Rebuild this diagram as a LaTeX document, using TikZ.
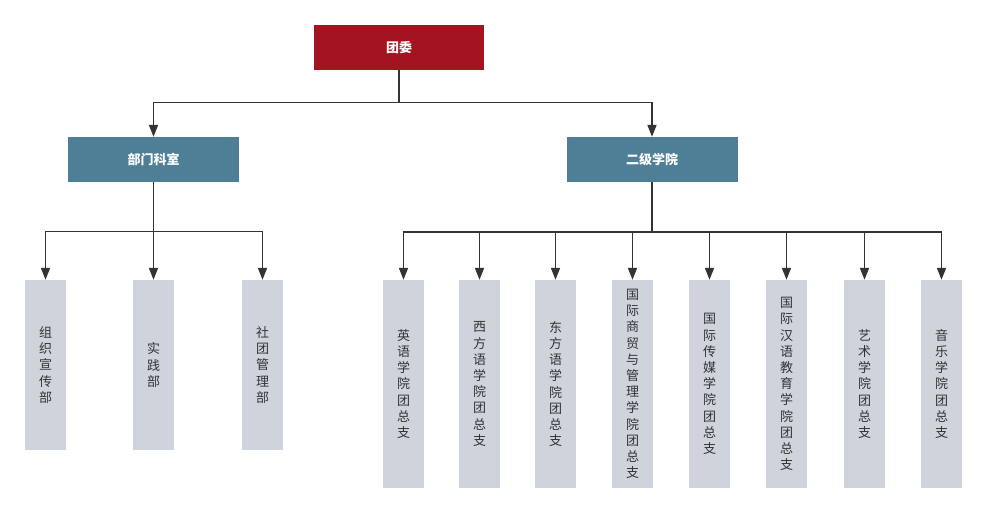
\documentclass[tikz,border=0pt]{standalone}
\usepackage{fontspec}
\newfontfamily\cjk{Noto Sans CJK SC}
\usetikzlibrary{arrows.meta}
\definecolor{topred}{HTML}{A31420}
\definecolor{midblue}{HTML}{4E7F96}
\definecolor{leafgray}{HTML}{CED3DC}
\definecolor{linegray}{HTML}{333333}
\tikzset{
  topbox/.style={fill=topred, draw=none, minimum width=170pt, minimum height=45pt, text=white, font=\cjk\bfseries\fontsize{13}{16}\selectfont, inner sep=0pt},
  midbox/.style={fill=midblue, draw=none, minimum width=171pt, minimum height=45pt, text=white, font=\cjk\bfseries\fontsize{13}{16}\selectfont, inner sep=0pt},
  leafbox/.style={fill=leafgray, draw=none, minimum width=41pt, text width=41pt, align=center, text=linegray, font=\cjk\fontsize{13}{16.2}\selectfont, inner sep=0pt},
  conn/.style={draw=linegray, line width=1.8pt, -{Triangle[width=9pt,length=12pt]}},
  plain/.style={draw=linegray, line width=1.8pt}
}
\begin{document}
\begin{tikzpicture}[x=1pt,y=-1pt]
\useasboundingbox (0,0) rectangle (987,514);
\node[topbox] (tw) at (399,47.5) {团委};
\node[midbox] (bm) at (153.5,159.5) {部门科室};
\node[midbox] (ej) at (652,159.5) {二级学院};
% left leaves (y 280-450)
\node[leafbox, minimum height=170pt] (l1) at (45.5,365) {组\\织\\宣\\传\\部};
\node[leafbox, minimum height=170pt] (l2) at (153.5,365) {实\\践\\部};
\node[leafbox, minimum height=170pt] (l3) at (262.5,365) {社\\团\\管\\理\\部};
% right leaves (y 280-488)
\node[leafbox, minimum height=208pt] (r1) at (403.5,384) {英\\语\\学\\院\\团\\总\\支};
\node[leafbox, minimum height=208pt] (r2) at (479.5,384) {西\\方\\语\\学\\院\\团\\总\\支};
\node[leafbox, minimum height=208pt] (r3) at (555.5,384) {东\\方\\语\\学\\院\\团\\总\\支};
\node[leafbox, minimum height=208pt] (r4) at (632.5,384) {国\\际\\商\\贸\\与\\管\\理\\学\\院\\团\\总\\支};
\node[leafbox, minimum height=208pt] (r5) at (709.5,384) {国\\际\\传\\媒\\学\\院\\团\\总\\支};
\node[leafbox, minimum height=208pt] (r6) at (786.5,384) {国\\际\\汉\\语\\教\\育\\学\\院\\团\\总\\支};
\node[leafbox, minimum height=208pt] (r7) at (864.5,384) {艺\\术\\学\\院\\团\\总\\支};
\node[leafbox, minimum height=208pt] (r8) at (941.5,384) {音\\乐\\学\\院\\团\\总\\支};
% junctions
\coordinate (j0) at (399,102.5);
\coordinate (j1) at (153.5,231.5);
\coordinate (j2) at (652,232);
% top level
\draw[plain] (tw.south) -- (j0);
\draw[conn] (j0) -| (bm.north);
\draw[conn] (j0) -| (ej.north);
% left
\draw[plain] (bm.south) -- (j1);
\foreach \n in {l1,l2,l3} \draw[conn] (j1) -| (\n.north);
% right
\draw[plain] (ej.south) -- (j2);
\foreach \n in {r1,r2,r3,r4,r5,r6,r7,r8} \draw[conn] (j2) -| (\n.north);
\end{tikzpicture}
\end{document}
